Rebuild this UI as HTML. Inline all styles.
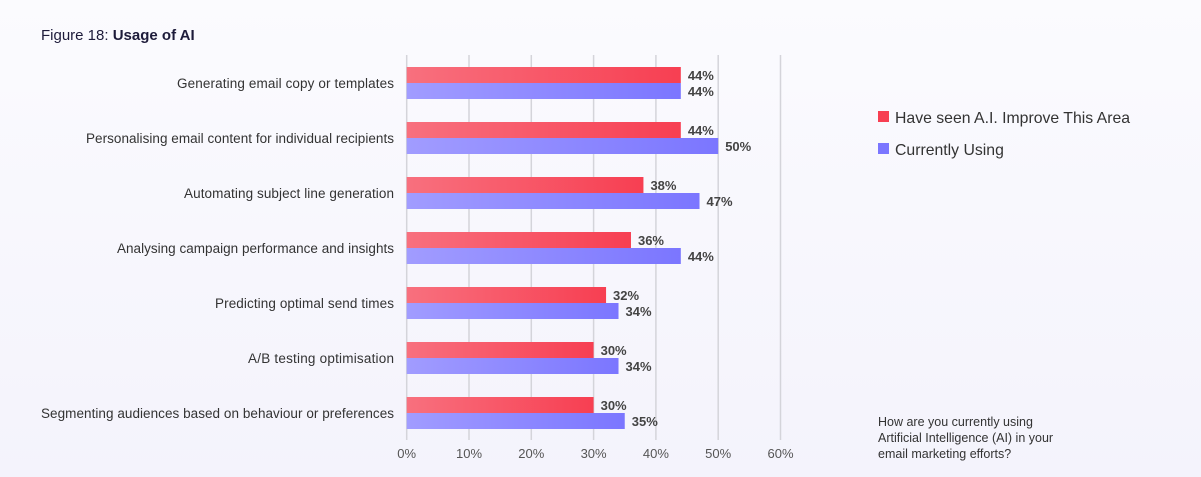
<!DOCTYPE html>
<html><head><style>
html,body{margin:0;width:1201px;height:477px;overflow:hidden;background:#f7f6fd;font-family:"Liberation Sans",sans-serif;}
</style></head><body>
<svg width="1201" height="477" xmlns="http://www.w3.org/2000/svg" font-family="Liberation Sans, sans-serif" style="display:block">
<defs>
<linearGradient id="bg" x1="0" y1="0" x2="0" y2="1"><stop offset="0" stop-color="#fbfbfe"/><stop offset="1" stop-color="#f4f3fc"/></linearGradient>
<linearGradient id="r" x1="0" x2="1"><stop offset="0" stop-color="#f8707e"/><stop offset="1" stop-color="#f73f52"/></linearGradient>
<linearGradient id="b" x1="0" x2="1"><stop offset="0" stop-color="#a19cff"/><stop offset="1" stop-color="#7b76ff"/></linearGradient>
</defs>
<rect width="1201" height="477" fill="url(#bg)"/>
<text x="41" y="40" font-size="15" fill="#1d1b3a">Figure 18: <tspan font-weight="bold">Usage of AI</tspan></text>
<g stroke="#d4d4da" stroke-width="1.5">
<line x1="406.7" y1="55" x2="406.7" y2="440"/><line x1="469" y1="55" x2="469" y2="440"/><line x1="531.3" y1="55" x2="531.3" y2="440"/><line x1="593.6" y1="55" x2="593.6" y2="440"/><line x1="655.9" y1="55" x2="655.9" y2="440"/><line x1="718.2" y1="55" x2="718.2" y2="440"/><line x1="780.5" y1="55" x2="780.5" y2="440"/>
</g>
<g font-size="13" fill="#555" text-anchor="middle">
<text x="406.7" y="458">0%</text><text x="469" y="458">10%</text><text x="531.3" y="458">20%</text><text x="593.6" y="458">30%</text><text x="655.9" y="458">40%</text><text x="718.2" y="458">50%</text><text x="780.5" y="458">60%</text>
</g>
<g id="rows" font-size="13.5"></g>
<rect x="878" y="111" width="11" height="11" fill="#f73f52"/>
<text x="895" y="123" font-size="15.8" fill="#333">Have seen A.I. Improve This Area</text>
<rect x="878" y="143" width="11" height="11" fill="#7b76ff"/>
<text x="895" y="155" font-size="15.8" fill="#333">Currently Using</text>
<g font-size="12.5" fill="#333">
<text x="878" y="426">How are you currently using</text>
<text x="878" y="442">Artificial Intelligence (AI) in your</text>
<text x="878" y="458">email marketing efforts?</text>
</g>
</svg>
<script>
var d=[["Generating email copy or templates",44,44],["Personalising email content for individual recipients",44,50],["Automating subject line generation",38,47],["Analysing campaign performance and insights",36,44],["Predicting optimal send times",32,34],["A/B testing optimisation",30,34],["Segmenting audiences based on behaviour or preferences",30,35]];
var s="",x0=406.7,k=6.23;
d.forEach(function(r,i){var y=67+55*i;
s+='<text x="394" y="'+(y+21)+'" text-anchor="end" fill="#333" textLength="'+({0:217,1:308,2:210,3:277,4:179,5:146,6:353}[i])+'">'+r[0]+'</text>';
s+='<rect x="'+x0+'" y="'+y+'" width="'+(r[1]*k)+'" height="16" fill="url(#r)"/>';
s+='<rect x="'+x0+'" y="'+(y+16)+'" width="'+(r[2]*k)+'" height="16" fill="url(#b)"/>';
s+='<text x="'+(x0+r[1]*k+7)+'" y="'+(y+13)+'" font-weight="bold" font-size="13" fill="#444">'+r[1]+'%</text>';
s+='<text x="'+(x0+r[2]*k+7)+'" y="'+(y+29)+'" font-weight="bold" font-size="13" fill="#444">'+r[2]+'%</text>';});
document.getElementById("rows").innerHTML=s;
</script>
</body></html>
